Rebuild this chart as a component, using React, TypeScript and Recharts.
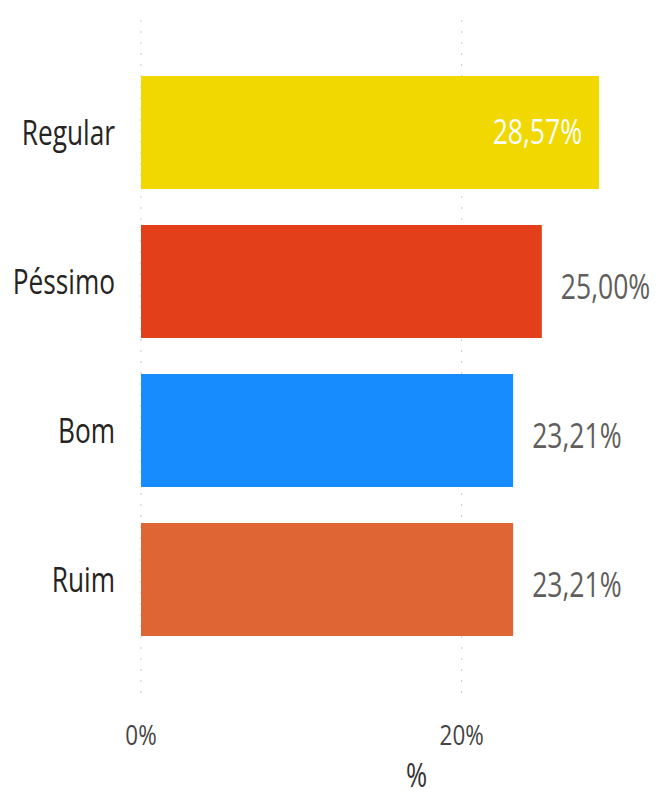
import { BarChart, Bar, XAxis, YAxis, CartesianGrid, Cell, LabelList } from "recharts"

const categories = ["Regular", "Péssimo", "Bom", "Ruim"]
const values = [28.57, 25.0, 23.21, 23.21]
const colors = ["#F0D800", "#E43F1B", "#178CFF", "#DF6634"]
const xTicks = [0, 20]

const data = categories.map((name, i) => ({ name, value: values[i] }))

const FONT = "'Open Sans', sans-serif"

const fmt = (v: number) => v.toFixed(2).replace(".", ",") + "%"

// narrow text, the original font is a condensed Segoe-like face
const NarrowText = ({ x, y, anchor, size, fill, sx = 0.76, children }: any) => (
  <text
    transform={`translate(${x},${y}) scale(${sx},1)`}
    x={0}
    y={0}
    textAnchor={anchor}
    fill={fill}
    fontSize={size}
    fontFamily={FONT}
  >
    {children}
  </text>
)

const CatTick = (props: any) => {
  const { x, y, payload } = props
  return (
    <NarrowText x={x} y={y + 12} anchor="end" size={35} fill="#252423" sx={0.75}>
      {payload.value}
    </NarrowText>
  )
}

const PctTick = (props: any) => {
  const { x, y, payload } = props
  return (
    <NarrowText x={x} y={y + 21} anchor="middle" size={28} fill="#444" sx={0.8}>
      {`${payload.value}%`}
    </NarrowText>
  )
}

const AxisTitle = (props: any) => {
  const { viewBox } = props
  return (
    <NarrowText x={viewBox.x + viewBox.width / 2 + 35} y={787} anchor="middle" size={32} fill="#333" sx={0.8}>
      %
    </NarrowText>
  )
}

// first bar shows its label inside (white), the rest outside (grey)
const ValueLabel = (props: any) => {
  const { x, y, width, height, value, index } = props
  const inside = index === 0
  return (
    <NarrowText
      x={inside ? x + width - 17 : x + width + 19}
      y={y + height / 2 + (inside ? 11 : 17)}
      anchor={inside ? "end" : "start"}
      size={34}
      fill={inside ? "#FFFFFF" : "#605E5C"}
      sx={0.78}
    >
      {fmt(value)}
    </NarrowText>
  )
}

export default function App() {
  return (
    <div style={{ position: "absolute", left: 0, top: 0, background: "#fff" }}>
      <BarChart
        width={659}
        height={795}
        data={data}
        layout="vertical"
        margin={{ top: 20, right: 37, bottom: 0, left: 0 }}
      >
        <CartesianGrid horizontal={false} verticalValues={xTicks} stroke="#C8C8C8" strokeDasharray="2 9" />
        <XAxis
          type="number"
          domain={[0, 30]}
          ticks={xTicks}
          axisLine={false}
          tickLine={false}
          tickMargin={18}
          height={95}
          tick={PctTick}
          label={<AxisTitle />}
        />
        <YAxis
          type="category"
          dataKey="name"
          width={141}
          axisLine={false}
          tickLine={false}
          tickMargin={20}
          padding={{ top: 38, bottom: 46 }}
          tick={CatTick}
        />
        <Bar dataKey="value" barSize={113} isAnimationActive={false}>
          {data.map((d, i) => (
            <Cell key={d.name} fill={colors[i]} />
          ))}
          <LabelList dataKey="value" content={ValueLabel} />
        </Bar>
      </BarChart>
    </div>
  )
}
